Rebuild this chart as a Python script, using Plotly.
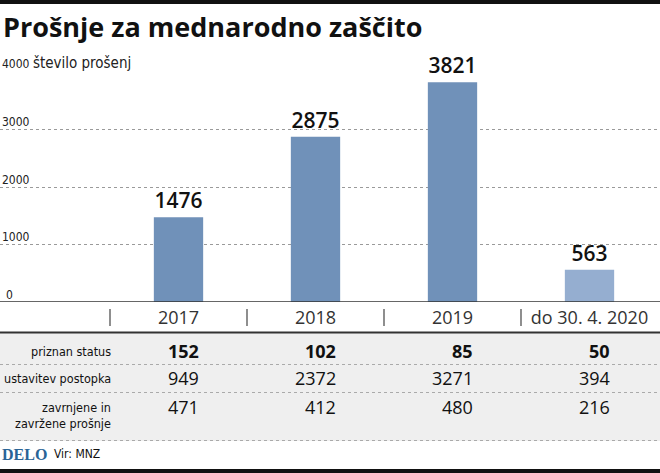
import plotly.graph_objects as go

categories = ["2017", "2018", "2019", "do 30. 4. 2020"]
applications = [1476, 2875, 3821, 563]
bar_colors = ["#7091b9", "#7091b9", "#7091b9", "#95aed0"]
y_ticks = [0, 1000, 2000, 3000, 4000]

row_labels = ["priznan status", "ustavitev postopka", "zavrnjene in<br>zavržene prošnje"]
recognized = [152, 102, 85, 50]
discontinued = [949, 2372, 3271, 394]
rejected = [471, 412, 480, 216]

W, H = 660, 473
def py(px):
    return 1 - px / H

FONT = "Open Sans"
NARROW = "DejaVu Sans Condensed, Roboto, sans-serif"

fig = go.Figure()
fig.add_trace(go.Bar(
    x=list(range(len(categories))), y=applications,
    marker=dict(color=bar_colors, line=dict(width=0)),
    width=0.36,
    text=[str(v) for v in applications], textposition="outside",
    textfont=dict(family=FONT, size=21, color="#111111", weight=600),
    cliponaxis=False, hoverinfo="skip",
))

ann = []
shapes = []

# title
ann.append(dict(x=0, y=py(27), xref="paper", yref="paper", xanchor="left", yanchor="middle",
                text="<b>Prošnje za mednarodno zaščito</b>", showarrow=False, xshift=1,
                font=dict(family=FONT, size=27, color="#111111")))
# y tick labels
for t in y_ticks:
    txt = str(t)
    if t == 4000:
        txt = "4000 <span style='font-size:15px'>število prošenj</span>"
    ann.append(dict(x=0, y=t, xref="paper", yref="y", xanchor="left", yanchor="bottom",
                    text=txt, showarrow=False, xshift=0 if t else 4, yshift=-2,
                    font=dict(family=NARROW, size=12, color="#222222")))
# separators
for i in range(len(categories)):
    shapes.append(dict(type="line", xref="x", yref="paper", x0=i - 0.5, x1=i - 0.5,
                       y0=py(326), y1=py(309), line=dict(color="#444444", width=1.2)))

# table background & lines
shapes.append(dict(type="rect", xref="paper", yref="paper", x0=0, x1=1, y0=py(441), y1=py(333),
                   fillcolor="#efefef", line=dict(width=0), layer="below"))
shapes.append(dict(type="line", xref="paper", yref="paper", x0=0, x1=1, y0=py(332.5), y1=py(332.5),
                   line=dict(color="#333333", width=2)))
for yy in [364.5, 392.5, 440.5]:
    shapes.append(dict(type="line", xref="paper", yref="paper", x0=0, x1=1, y0=py(yy), y1=py(yy),
                       line=dict(color="#aaaaaa", width=1, dash="dot")))
# baseline
shapes.append(dict(type="line", xref="paper", yref="y", x0=0, x1=1, y0=0, y1=0,
                   line=dict(color="#333333", width=1.5)))
# top & bottom bands
shapes.append(dict(type="rect", xref="paper", yref="paper", x0=0, x1=1, y0=py(4), y1=1,
                   fillcolor="#111111", line=dict(width=0)))
shapes.append(dict(type="rect", xref="paper", yref="paper", x0=0, x1=1, y0=0, y1=py(469),
                   fillcolor="#111111", line=dict(width=0)))

row_y = [351, 378, 407]
label_y = [351, 378, 415]
rows = [recognized, discontinued, rejected]
for r, (lab, vals) in enumerate(zip(row_labels, rows)):
    ann.append(dict(x=-0.5, y=py(label_y[r]), xref="x", yref="paper", xanchor="right", yanchor="middle",
                    text=lab, showarrow=False, xshift=3, align="right",
                    font=dict(family=NARROW, size=12.5, color="#111111")))
    for i, v in enumerate(vals):
        txt = f"<b>{v}</b>" if r == 0 else str(v)
        ann.append(dict(x=i, y=py(row_y[r]), xref="x", yref="paper", xanchor="right", yanchor="middle",
                        text=txt, showarrow=False, xshift=22,
                        font=dict(family=FONT, size=18, color="#111111")))

ann.append(dict(x=0, y=py(454), xref="paper", yref="paper", xanchor="left", yanchor="middle",
                text="<b>DELO</b>", showarrow=False, xshift=0,
                font=dict(family="Liberation Serif", size=16, color="#2a6496")))
ann.append(dict(x=0, y=py(454), xref="paper", yref="paper", xanchor="left", yanchor="middle",
                text="Vir: MNZ", showarrow=False, xshift=52,
                font=dict(family=NARROW, size=12, color="#111111")))

px_per_cat = 137.0
left_edge = 110.0
x0 = -0.5 - left_edge / px_per_cat
x1 = x0 + W / px_per_cat

fig.update_layout(
    width=W, height=H, margin=dict(l=0, r=0, t=0, b=0),
    paper_bgcolor="white", plot_bgcolor="white",
    showlegend=False,
    xaxis=dict(range=[x0, x1], tickmode="array", tickvals=list(range(len(categories))),
               ticktext=categories, showgrid=False, zeroline=False, showline=False, ticks="",
               ticklabelstandoff=3,
               tickfont=dict(family=FONT, size=18, color="#333333"), fixedrange=True),
    yaxis=dict(range=[0, 4000], domain=[py(302), py(72)], tickvals=y_ticks, showticklabels=False,
               showgrid=True, gridcolor="#9a9a9a", gridwidth=1, griddash="dot",
               zeroline=False, showline=False, fixedrange=True),
    annotations=ann, shapes=shapes,
)

fig.write_html("out.html")
